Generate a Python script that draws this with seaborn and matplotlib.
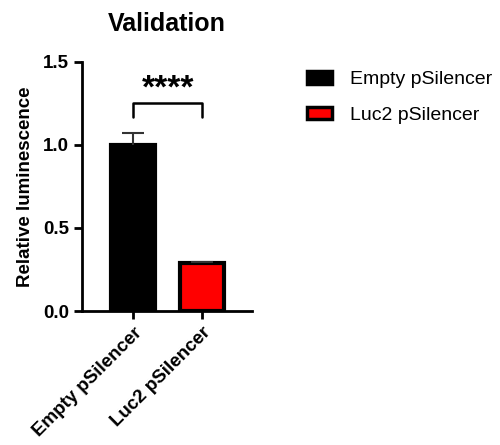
import matplotlib
matplotlib.use("Agg")
import matplotlib.pyplot as plt
import seaborn as sns
import pandas as pd
from matplotlib.patches import Patch

categories = ["Empty pSilencer", "Luc2 pSilencer"]
means = [1.00, 0.29]
errors = [0.073, 0.007]
colors = ["#000000", "#ff0000"]
yticks = [0.0, 0.5, 1.0, 1.5]
title = "Validation"
ylabel = "Relative luminescence"
sig_label = "****"

sns.set_style("ticks")
plt.rcParams['font.family'] = ['Liberation Sans', 'DejaVu Sans']
plt.rcParams['text.color'] = 'black'
plt.rcParams['axes.labelcolor'] = 'black'
plt.rcParams['xtick.color'] = 'black'
plt.rcParams['ytick.color'] = 'black'
plt.rcParams['axes.edgecolor'] = 'black'

df = pd.DataFrame({"group": categories, "value": means})

fig = plt.figure(figsize=(5.0, 4.45), dpi=100)
ax = fig.add_axes([0.164, 0.301, 0.340, 0.560])

sns.barplot(data=df, x="group", y="value", hue="group", palette=colors,
            order=categories, hue_order=categories, dodge=False, saturation=1,
            width=0.64, edgecolor="black", linewidth=3.0, errorbar=None,
            legend=False, ax=ax)

# upper-only error bars
xs = list(range(len(categories)))
tops = [m + e for m, e in zip(means, errors)]
cap_half = 0.16
ax.vlines(xs, means, tops, color="#333333", lw=1.5, zorder=1)
ax.hlines(tops, [x - cap_half for x in xs], [x + cap_half for x in xs],
          color="#333333", lw=1.5, zorder=1)

ax.set_xlim(-0.74, 1.72)
ax.set_ylim(0, 1.5)
ax.set_yticks(yticks)
ax.set_yticklabels([f"{t:.1f}" for t in yticks], fontsize=13.5, fontweight="bold")
ax.set_xticks(xs)
ax.set_xticklabels(categories, rotation=45, ha="right", rotation_mode="anchor",
                   fontsize=13.5, fontweight="bold")
ax.set_xlabel("")
ax.set_ylabel(ylabel, fontsize=13.5, fontweight="bold", labelpad=6)
ax.set_title(title, fontsize=18, fontweight="bold", pad=22)

for side in ["top", "right"]:
    ax.spines[side].set_visible(False)
for side in ["left", "bottom"]:
    ax.spines[side].set_linewidth(2.0)
ax.tick_params(axis="both", width=2.0, length=6, direction="out")

# significance bracket
yb = 1.25
yl = 1.17
ax.plot([0, 0, 1, 1], [yl, yb, yb, yl], color="black", lw=1.8, clip_on=False)
ax.text(0.5, yb - 0.005, sig_label, ha="center", va="bottom",
        fontsize=24, fontweight="bold")

handles = [Patch(facecolor=c, edgecolor="black", linewidth=2.5) for c in colors]
fig.legend(handles, categories, loc="upper left", bbox_to_anchor=(0.614, 0.84),
           frameon=False, fontsize=14, handlelength=1.3, handleheight=0.6,
           labelspacing=0.95, handletextpad=0.9, borderpad=0, borderaxespad=0)

fig.savefig("out.png", dpi=100)
